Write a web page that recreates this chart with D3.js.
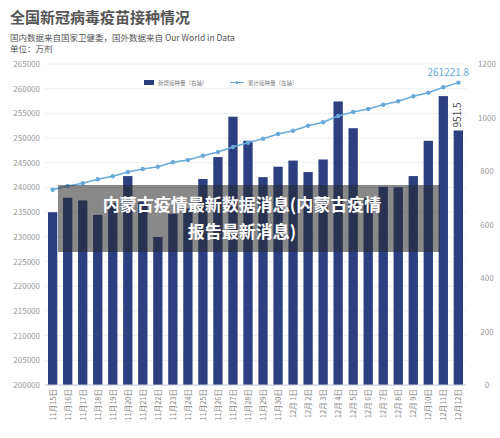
<!DOCTYPE html>
<html><head><meta charset="utf-8">
<script src="https://cdn.jsdelivr.net/npm/d3@7"></script>
<style>body{margin:0;background:#fff}text{font-family:"Noto Sans CJK SC","Noto Sans",sans-serif}</style>
</head><body><div id="chart"></div>
<script>
// data
const dates = ["11月15日","11月16日","11月17日","11月18日","11月19日","11月20日","11月21日","11月22日","11月23日","11月24日","11月25日","11月26日","11月27日","11月28日","11月29日","11月30日","12月 1日","12月 2日","12月 3日","12月 4日","12月 5日","12月 6日","12月 7日","12月 8日","12月 9日","12月10日","12月11日","12月12日"];
const daily = [646,700,690,636,680,781,685,553,640,660,770,852,1003,913,777,816,839,796,843,1060,960,700,741,739,781,913,1080,951.5];
const total = [239544,240293,240840,241650,242258,243129,243737,244203,245093,245559,246430,247180,248193,249063,249873,250825,251493,252506,253194,254470,255280,255887,256758,257446,258459,259188,260281,261221.8];
const leftTicks = d3.range(200000, 265001, 5000);
const rightTicks = d3.range(0, 1201, 200);

const width = 500, height = 438;
const svg = d3.select("#chart").append("svg").attr("width", width).attr("height", height);
const plotL = 45, plotR = 466, plotT = 64, plotB = 385;

const x = d3.scaleBand().domain(dates).range([plotL, plotR]).paddingInner(0.38).paddingOuter(0.2);
const yL = d3.scaleLinear().domain([200000, 265000]).range([plotB, plotT]);
const yR = d3.scaleLinear().domain([0, 1200]).range([plotB, plotT]);

// titles
svg.append("text").attr("x", 10).attr("y", 23).attr("font-size", 15).attr("font-weight", "bold").attr("fill", "#555").text("全国新冠病毒疫苗接种情况");
svg.append("text").attr("x", 10).attr("y", 41).attr("font-size", 8.5).attr("fill", "#555").text("国内数据来自国家卫健委，国外数据来自 Our World in Data");
svg.append("text").attr("x", 10).attr("y", 52).attr("font-size", 8.5).attr("fill", "#555").text("单位：万剂");

// grid + axes labels
svg.append("g").selectAll("line").data(leftTicks).join("line")
  .attr("x1", plotL).attr("x2", plotR).attr("y1", d => yL(d)).attr("y2", d => yL(d))
  .attr("stroke", "#eceef3");
svg.append("g").selectAll("text").data(leftTicks).join("text")
  .attr("x", 40).attr("y", d => yL(d) + 3).attr("text-anchor", "end")
  .attr("font-size", 8).attr("fill", "#999").text(d => d);
svg.append("g").selectAll("text").data(rightTicks).join("text")
  .attr("x", 487).attr("y", d => yR(d) + 3).attr("text-anchor", "middle")
  .attr("font-size", 8).attr("fill", "#999").text(d => d);

// bars
svg.append("g").selectAll("rect").data(daily).join("rect")
  .attr("x", (d, i) => x(dates[i])).attr("width", x.bandwidth())
  .attr("y", d => yR(d)).attr("height", d => plotB - yR(d))
  .attr("fill", "#2c3f80");
svg.append("line").attr("x1", plotL).attr("x2", plotR).attr("y1", plotB).attr("y2", plotB).attr("stroke", "#c8ccd6");

// line
const cx = i => x(dates[i]) + x.bandwidth() / 2;
svg.append("path").datum(total)
  .attr("d", d3.line().x((d, i) => cx(i)).y(d => yL(d)))
  .attr("fill", "none").attr("stroke", "#6aaad8").attr("stroke-width", 1.5);
svg.append("g").selectAll("circle").data(total).join("circle")
  .attr("cx", (d, i) => cx(i)).attr("cy", d => yL(d)).attr("r", 2.2).attr("fill", "#6aaad8");

// value labels
const last = dates.length - 1;
svg.append("text").attr("x", cx(last) - 10).attr("y", yL(total[last]) - 7).attr("text-anchor", "middle")
  .attr("font-size", 10).attr("fill", "#6aaad8").text("261221.8");
svg.append("text").attr("transform", `translate(${cx(last) + 3},${yR(daily[last]) - 3}) rotate(-90)`)
  .attr("font-size", 10).attr("fill", "#555").text("951.5");

// x labels
svg.append("g").selectAll("text").data(dates).join("text")
  .attr("transform", (d, i) => `translate(${cx(i) + 3},${plotB + 4}) rotate(-90)`)
  .attr("text-anchor", "end").attr("font-size", 7.5).attr("fill", "#888").text(d => d);

// legend
svg.append("rect").attr("x", 144).attr("y", 80).attr("width", 10).attr("height", 5).attr("fill", "#2c3f80");
svg.append("text").attr("x", 158).attr("y", 85).attr("font-size", 5.5).attr("fill", "#777").text("新增接种量（右轴）");
svg.append("line").attr("x1", 230).attr("x2", 244).attr("y1", 82.5).attr("y2", 82.5).attr("stroke", "#6aaad8");
svg.append("circle").attr("cx", 237).attr("cy", 82.5).attr("r", 1.5).attr("fill", "#6aaad8");
svg.append("text").attr("x", 248).attr("y", 85).attr("font-size", 5.5).attr("fill", "#777").text("累计接种量（左轴）");

// overlay banner
svg.append("rect").attr("x", 58).attr("y", 185).attr("width", 382).attr("height", 67).attr("fill", "rgba(40,40,40,0.55)");
svg.append("text").attr("x", 242).attr("y", 211).attr("text-anchor", "middle").attr("font-size", 17).attr("font-weight", "bold").attr("fill", "#fff").text("内蒙古疫情最新数据消息(内蒙古疫情");
svg.append("text").attr("x", 242).attr("y", 238).attr("text-anchor", "middle").attr("font-size", 17).attr("font-weight", "bold").attr("fill", "#fff").text("报告最新消息)");
</script></body></html>
